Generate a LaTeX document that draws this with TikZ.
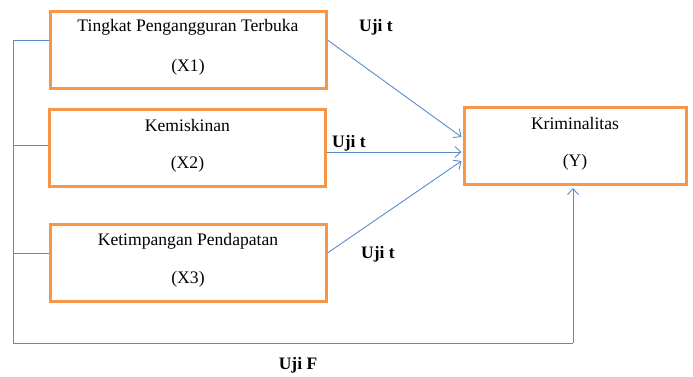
\documentclass[tikz,border=0pt]{standalone}
\usepackage{fontspec}
\setmainfont{Liberation Serif}
\usetikzlibrary{arrows.meta,calc}
\definecolor{boxorange}{HTML}{F79646}
\definecolor{lineblue}{HTML}{5B8CC8}
\begin{document}
\begin{tikzpicture}[x=1pt,y=-1pt,
  varbox/.style={draw=boxorange,line width=3pt,minimum width=#1,minimum height=77pt,inner sep=0pt},
  boxtext/.style={font=\fontsize{17.6}{19}\selectfont,inner sep=0pt},
  conn/.style={draw=lineblue,line width=0.9pt},
  arr/.style={conn,-{Straight Barb[length=6pt,width=11pt,line width=0.9pt]}},
  lab/.style={font=\fontsize{17.5}{19}\selectfont\bfseries,inner sep=0pt}]
\useasboundingbox (0,0) rectangle (693,376);
% boxes
\node[varbox=276pt] (X1) at (188,49.5) {};
\node[varbox=276pt] (X2) at (187.5,147.5) {};
\node[varbox=276pt] (X3) at (188,262.5) {};
\node[varbox=222pt] (Y) at (575,146) {};
% texts
\node[boxtext] (t1a) at ($(X1.north)+(0,17.5)$) {Tingkat Pengangguran Terbuka};
\node[boxtext] (t1b) at ($(X1.north)+(0,58)$) {(X1)};
\node[boxtext] (t2a) at ($(X2.north)+(0,18)$) {Kemiskinan};
\node[boxtext] (t2b) at ($(X2.north)+(0,57)$) {(X2)};
\node[boxtext] (t3a) at ($(X3.north)+(0,18.5)$) {Ketimpangan Pendapatan};
\node[boxtext] (t3b) at ($(X3.north)+(0,57)$) {(X3)};
\node[boxtext] (tya) at ($(Y.north)+(0,17.5)$) {Kriminalitas};
\node[boxtext] (tyb) at ($(Y.north)+(0,56)$) {(Y)};
% helper coordinates
\coordinate (h40) at (0,40);
\coordinate (h145) at (0,145);
\coordinate (h253) at (0,253);
\coordinate (h137) at (0,137);
\coordinate (h152) at (0,152);
\coordinate (h161) at (0,161);
\coordinate (L1) at (13,40);
\coordinate (L2) at (13,145);
\coordinate (L3) at (13,253);
\coordinate (LB) at (13,343);
\coordinate (RB) at (573,343);
\coordinate (YB) at (573,188);
% left bracket
\draw[conn] (L1) -- (LB) -- (RB);
\draw[conn] (L1) -- (X1.west |- h40);
\draw[conn] (L2) -- (X2.west |- h145);
\draw[conn] (L3) -- (X3.west |- h253);
\draw[arr] (RB) -- (YB);
% t-test arrows
\draw[arr] (X1.east |- h40) -- ($(Y.west |- h137)+(-1,0)$);
\draw[arr] (X2.east |- h152) -- ($(Y.west |- h152)+(-1,0)$);
\draw[arr] (X3.east |- h253) -- ($(Y.west |- h161)+(-1,0)$);
% labels
\node[lab] (u1) at (376,27) {Uji t};
\node[lab] (u2) at (349,143) {Uji t};
\node[lab] (u3) at (378,254) {Uji t};
\node[lab] (uf) at (298,365) {Uji F};
\end{tikzpicture}
\end{document}
